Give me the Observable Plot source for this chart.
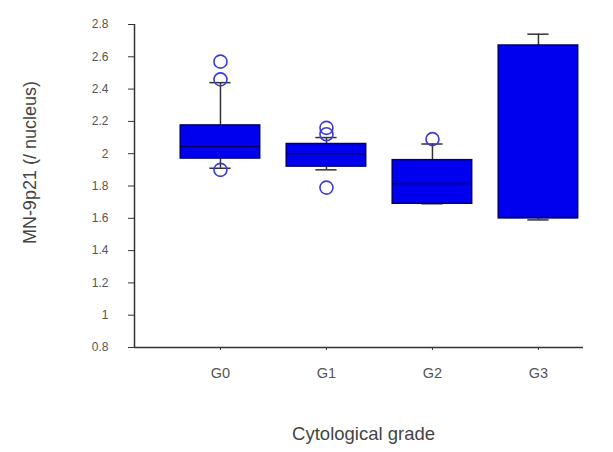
<!DOCTYPE html>
<html>
<head>
<meta charset="utf-8">
<script src="https://cdn.jsdelivr.net/npm/d3@7"></script>
<script src="https://cdn.jsdelivr.net/npm/@observablehq/plot@0.6"></script>
<style>
  html, body { margin: 0; padding: 0; background: #fff; }
  svg { display: block; }
</style>
</head>
<body>
<div id="chart"></div>
<script>
const categories = ["G0", "G1", "G2", "G3"];
const q1 = [1.97, 1.92, 1.69, 1.60];
const median = [2.045, 2.00, 1.815, 1.605];
const q3 = [2.175, 2.06, 1.96, 2.67];
const whiskerLow = [1.91, 1.90, 1.69, 1.59];
const whiskerHigh = [2.44, 2.10, 2.06, 2.74];
const outlierGroup = ["G0", "G0", "G0", "G1", "G1", "G1", "G2"];
const outlierValue = [2.57, 2.46, 1.90, 2.16, 2.12, 1.79, 2.09];
const yTicks = [0.8, 1, 1.2, 1.4, 1.6, 1.8, 2, 2.2, 2.4, 2.6, 2.8];

const boxes = categories.map((c, i) => ({
  i, c, q1: q1[i], median: median[i], q3: q3[i], lo: whiskerLow[i], hi: whiskerHigh[i]
}));
const outliers = outlierGroup.map((g, k) => ({ i: categories.indexOf(g), v: outlierValue[k] }));

const half = 0.375, cap = 0.1;
const xDomain = [-0.811, 3.425];

const plot = Plot.plot({
  width: 613,
  height: 452,
  marginLeft: 134,
  marginRight: 30,
  marginTop: 24,
  marginBottom: 105,
  style: { fontFamily: "Liberation Sans, Arial, sans-serif", background: "#fff" },
  x: { domain: xDomain, axis: null },
  y: { domain: [0.8, 2.8], axis: null },
  marks: [
    // axes lines
    Plot.ruleX([xDomain[0]], { stroke: "#333", strokeWidth: 1.5 }),
    Plot.ruleY([0.8], { stroke: "#333", strokeWidth: 1.5 }),
    Plot.axisY({
      ticks: yTicks, tickSize: 6, tickPadding: 20, fontSize: 12, color: "#555",
      stroke: "#333", tickFormat: d => String(d), label: null
    }),
    Plot.axisX({
      ticks: categories.map((c, i) => i), tickSize: 3, tickPadding: 17, fontSize: 14.5,
      color: "#555", stroke: "#333", tickFormat: i => categories[i], label: null
    }),
    // whiskers
    Plot.ruleX(boxes, { x: "i", y1: "q3", y2: "hi", stroke: "#333", strokeWidth: 1.5 }),
    Plot.ruleX(boxes, { x: "i", y1: "lo", y2: "q1", stroke: "#333", strokeWidth: 1.5 }),
    Plot.ruleY(boxes, { y: "hi", x1: d => d.i - cap, x2: d => d.i + cap, stroke: "#333", strokeWidth: 1.5 }),
    Plot.ruleY(boxes, { y: "lo", x1: d => d.i - cap, x2: d => d.i + cap, stroke: "#333", strokeWidth: 1.5 }),
    // boxes
    Plot.rect(boxes, {
      x1: d => d.i - half, x2: d => d.i + half, y1: "q1", y2: "q3",
      fill: "#0000ee", stroke: "#000070", strokeWidth: 1.5
    }),
    Plot.ruleY(boxes, { y: "median", x1: d => d.i - half, x2: d => d.i + half, stroke: "#000060", strokeWidth: 1.5 }),
    // outliers
    Plot.dot(outliers, { x: "i", y: "v", r: 6.5, stroke: "#3a3ad8", strokeWidth: 1.6, fill: "none" }),
    // axis labels
    Plot.text(["Cytological grade"], {
      frameAnchor: "bottom", dy: 92, fontSize: 18.5, letterSpacing: 1.8, fill: "#444", x: () => 1.35
    }),
    Plot.text(["MN-9p21 (/ nucleus)"], {
      frameAnchor: "left", textAnchor: "middle", dx: -104, rotate: -90, fontSize: 18,
      letterSpacing: 1.4, fill: "#444", y: () => 1.945
    })
  ]
});
document.getElementById("chart").appendChild(plot);
</script>
</body>
</html>
